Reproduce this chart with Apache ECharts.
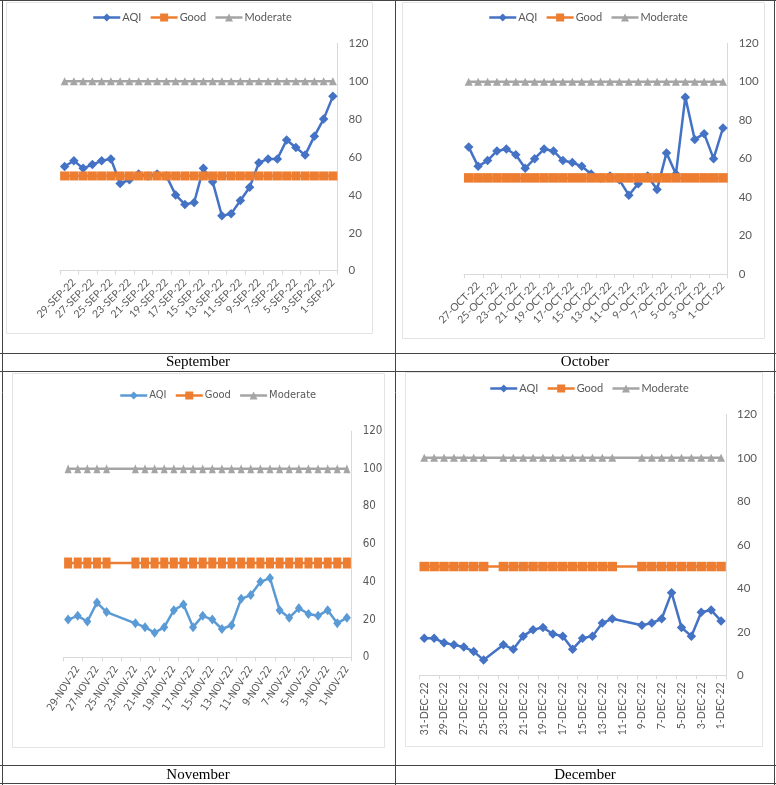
<!DOCTYPE html>
<html>
<head>
<meta charset="utf-8">
<script src="https://cdn.jsdelivr.net/npm/echarts@6/dist/echarts.min.js"></script>
<style>
html,body{margin:0;padding:0;background:#fff;}
#c{width:776px;height:785px;}
</style>
</head>
<body>
<div id="c"></div>
<script>
// ---------- data ----------
const sepCategories = ['30-SEP-22','29-SEP-22','28-SEP-22','27-SEP-22','26-SEP-22','25-SEP-22','24-SEP-22','23-SEP-22','22-SEP-22','21-SEP-22','20-SEP-22','19-SEP-22','18-SEP-22','17-SEP-22','16-SEP-22','15-SEP-22','14-SEP-22','13-SEP-22','12-SEP-22','11-SEP-22','10-SEP-22','9-SEP-22','8-SEP-22','7-SEP-22','6-SEP-22','5-SEP-22','4-SEP-22','3-SEP-22','2-SEP-22','1-SEP-22'];
const sepAQI = [55,58,54,56,58,59,46,48,51,50,51,50,40,35,36,54,47,29,30,37,44,57,59,59,69,65,61,71,80,92];
const sepGood = [50,50,50,50,50,50,50,50,50,50,50,50,50,50,50,50,50,50,50,50,50,50,50,50,50,50,50,50,50,50];
const sepModerate = [100,100,100,100,100,100,100,100,100,100,100,100,100,100,100,100,100,100,100,100,100,100,100,100,100,100,100,100,100,100];

const octCategories = ['28-OCT-22','27-OCT-22','26-OCT-22','25-OCT-22','24-OCT-22','23-OCT-22','22-OCT-22','21-OCT-22','20-OCT-22','19-OCT-22','18-OCT-22','17-OCT-22','16-OCT-22','15-OCT-22','14-OCT-22','13-OCT-22','12-OCT-22','11-OCT-22','10-OCT-22','9-OCT-22','8-OCT-22','7-OCT-22','6-OCT-22','5-OCT-22','4-OCT-22','3-OCT-22','2-OCT-22','1-OCT-22'];
const octAQI = [66,56,59,64,65,62,55,60,65,64,59,58,56,52,50,51,49,41,47,51,44,63,52,92,70,73,60,76];
const octGood = [50,50,50,50,50,50,50,50,50,50,50,50,50,50,50,50,50,50,50,50,50,50,50,50,50,50,50,50];
const octModerate = [100,100,100,100,100,100,100,100,100,100,100,100,100,100,100,100,100,100,100,100,100,100,100,100,100,100,100,100];

const novCategories = ['30-NOV-22','29-NOV-22','28-NOV-22','27-NOV-22','26-NOV-22','25-NOV-22','24-NOV-22','23-NOV-22','22-NOV-22','21-NOV-22','20-NOV-22','19-NOV-22','18-NOV-22','17-NOV-22','16-NOV-22','15-NOV-22','14-NOV-22','13-NOV-22','12-NOV-22','11-NOV-22','10-NOV-22','9-NOV-22','8-NOV-22','7-NOV-22','6-NOV-22','5-NOV-22','4-NOV-22','3-NOV-22','2-NOV-22','1-NOV-22'];
const novAQI = [20,22,19,29,24,null,null,18,16,13,16,25,28,16,22,20,15,17,31,33,40,42,25,21,26,23,22,25,18,21];
const novGood = [50,50,50,50,50,null,null,50,50,50,50,50,50,50,50,50,50,50,50,50,50,50,50,50,50,50,50,50,50,50];
const novModerate = [100,100,100,100,100,null,null,100,100,100,100,100,100,100,100,100,100,100,100,100,100,100,100,100,100,100,100,100,100,100];

const decCategories = ['31-DEC-22','30-DEC-22','29-DEC-22','28-DEC-22','27-DEC-22','26-DEC-22','25-DEC-22','24-DEC-22','23-DEC-22','22-DEC-22','21-DEC-22','20-DEC-22','19-DEC-22','18-DEC-22','17-DEC-22','16-DEC-22','15-DEC-22','14-DEC-22','13-DEC-22','12-DEC-22','11-DEC-22','10-DEC-22','9-DEC-22','8-DEC-22','7-DEC-22','6-DEC-22','5-DEC-22','4-DEC-22','3-DEC-22','2-DEC-22','1-DEC-22'];
const decAQI = [17,17,15,14,13,11,7,null,14,12,18,21,22,19,18,12,17,18,24,26,null,null,23,24,26,38,22,18,29,30,25];
const decGood = [50,50,50,50,50,50,50,null,50,50,50,50,50,50,50,50,50,50,50,50,null,null,50,50,50,50,50,50,50,50,50];
const decModerate = [100,100,100,100,100,100,100,null,100,100,100,100,100,100,100,100,100,100,100,100,null,null,100,100,100,100,100,100,100,100,100];

const seriesNames = ['AQI','Good','Moderate'];
const yTicks = [0,20,40,60,80,100,120];
const captions = ['September','October','November','December'];

// ---------- layout / styles ----------
const FONT = 'Lato, "Open Sans", sans-serif';
const NARROW = '"Liberation Sans Narrow", "DejaVu Sans Condensed", "Roboto", sans-serif';
const TXT = '#595959';
const AXIS = '#D9D9D9';
const BLUE = '#4472C4', LBLUE = '#5B9BD5', ORANGE = '#ED7D31', GREY = '#A5A5A5';

const panels = [
  {cats: sepCategories, aqi: sepAQI, good: sepGood, mod: sepModerate,
   grid: {left: 60, top: 43.3, width: 277.5, height: 227.4},
   legend: {left: 92, top: 12}, odd: true, rotate: 45, font: FONT, aqiColor: BLUE, sym: [9.5,9,8]},
  {cats: octCategories, aqi: octAQI, good: octGood, mod: octModerate,
   grid: {left: 464, top: 43.3, width: 263.7, height: 230.7},
   legend: {left: 488, top: 12}, odd: true, rotate: 45, font: FONT, aqiColor: BLUE, sym: [9.5,9.5,8]},
  {cats: novCategories, aqi: novAQI, good: novGood, mod: novModerate,
   grid: {left: 63.3, top: 431, width: 288.4, height: 226.3},
   legend: {left: 119, top: 390}, odd: true, rotate: 57, font: NARROW, aqiColor: LBLUE, sym: [[8,10],[8,11],[7,9]]},
  {cats: decCategories, aqi: decAQI, good: decGood, mod: decModerate,
   grid: {left: 419.3, top: 414.3, width: 306.7, height: 261},
   legend: {left: 489, top: 383}, odd: false, rotate: 90, font: FONT, aqiColor: BLUE, sym: [9.5,9.5,8]}
];

const option = {
  animation: false,
  backgroundColor: '#fff',
  grid: [], xAxis: [], yAxis: [], series: [], legend: [],
  graphic: []
};

panels.forEach((p, i) => {
  option.grid.push(Object.assign({containLabel: false}, p.grid));
  option.xAxis.push({
    type: 'category', gridIndex: i, data: p.cats, boundaryGap: true,
    axisLine: {show: true, lineStyle: {color: AXIS, width: 1}},
    axisTick: {show: true, interval: 1, length: 4, lineStyle: {color: AXIS}},
    axisLabel: {
      interval: (idx) => p.odd ? idx % 2 === 1 : idx % 2 === 0,
      rotate: p.rotate, color: TXT, fontSize: 10.5, fontFamily: p.font,
      margin: p.rotate === 90 ? 7 : 10
    },
    splitLine: {show: false}
  });
  option.yAxis.push({
    type: 'value', gridIndex: i, position: 'right', min: 0, max: 120, interval: 20,
    axisLine: {show: true, lineStyle: {color: AXIS}},
    axisTick: {show: false},
    splitLine: {show: false},
    axisLabel: {color: TXT, fontSize: 11.5, fontFamily: p.font, margin: 11,
      formatter: (v) => yTicks.indexOf(v) >= 0 ? String(v) : ''}
  });
  const cols = [p.aqiColor, ORANGE, GREY];
  const syms = ['diamond', 'rect', 'triangle'];
  const vals = [p.aqi, p.good, p.mod];
  seriesNames.forEach((n, k) => {
    option.series.push({
      type: 'line', name: n, xAxisIndex: i, yAxisIndex: i, data: vals[k],
      connectNulls: true, symbol: syms[k], symbolSize: p.sym[k], showAllSymbol: true,
      lineStyle: {color: cols[k], width: 2.5},
      itemStyle: {color: cols[k]},
      emphasis: {disabled: true}
    });
  });
  option.legend.push({
    left: p.legend.left, top: p.legend.top, padding: 0, itemWidth: 27, itemHeight: 10, itemGap: 8,
    selectedMode: false,
    textStyle: {color: TXT, fontSize: 11, fontFamily: p.font, padding: [0, 0, 0, -3]},
    data: seriesNames.map((n, k) => ({name: n, itemStyle: {color: cols[k]}, lineStyle: {color: cols[k], width: 2.5}}))
  });
});

// table lines and chart borders
const G = option.graphic;
const line = (x1, y1, x2, y2) => G.push({type: 'line', shape: {x1, y1, x2, y2}, style: {stroke: '#444', lineWidth: 1}, z: 100});
[[6,2,366,331],[402,2,362,336],[12,373,372,374],[405,372,357,374]].forEach(r =>
  G.push({type: 'rect', shape: {x: r[0] + 0.5, y: r[1] + 0.5, width: r[2], height: r[3]}, style: {fill: null, stroke: '#E3E3E3', lineWidth: 1}, z: -10}));
line(0, 0.5, 776, 0.5);
line(0, 353.5, 776, 353.5);
line(0, 371.5, 776, 371.5);
line(0, 765.5, 776, 765.5);
line(0, 783.5, 776, 783.5);
line(2.5, 0, 2.5, 785);
line(395.5, 0, 395.5, 785);
line(774.5, 0, 774.5, 785);
const capPos = [[198, 362.5], [585, 362.5], [198, 775], [585, 775]];
captions.forEach((t, i) => G.push({type: 'text', x: capPos[i][0], y: capPos[i][1], z: 100,
  style: {text: t, fill: '#000', font: '15px "Liberation Serif", "Times New Roman", serif', textAlign: 'center', textVerticalAlign: 'middle'}}));

const chart = echarts.init(document.getElementById('c'), null, {renderer: 'canvas'});
chart.setOption(option);
</script>
</body>
</html>
